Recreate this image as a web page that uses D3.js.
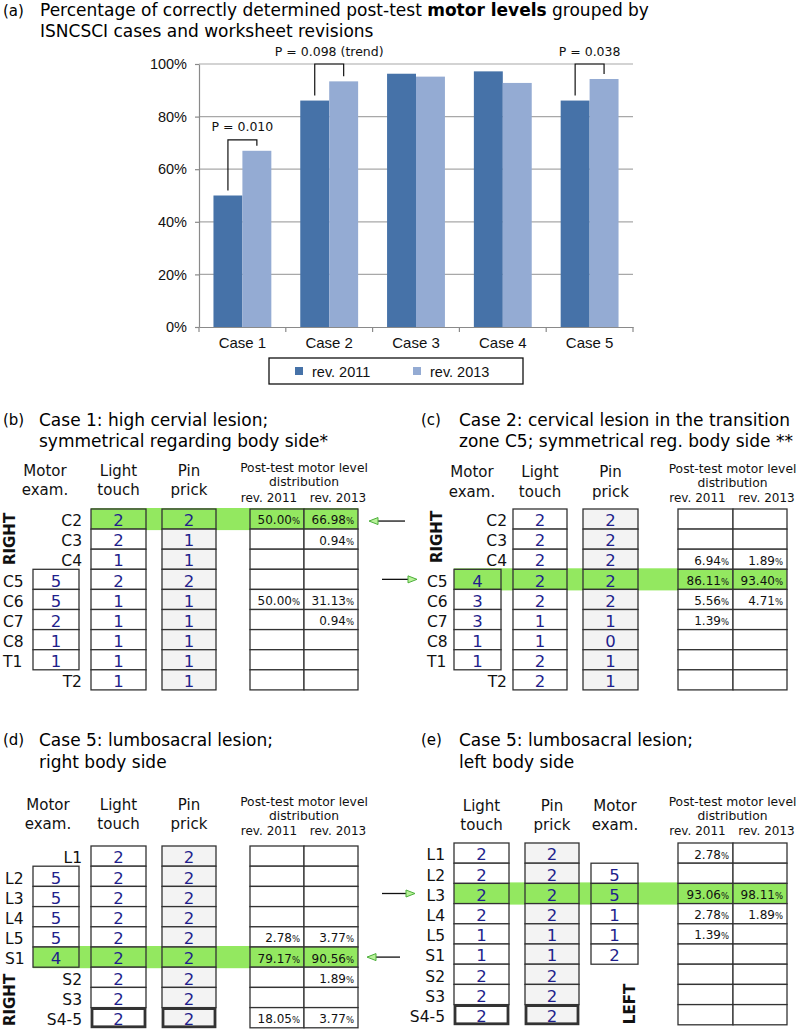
<!DOCTYPE html>
<html><head><meta charset="utf-8">
<script src="https://cdn.jsdelivr.net/npm/d3@7"></script>
<style>body{margin:0;background:#fff}svg{display:block}</style>
</head><body><svg id="fig" width="800" height="1032"></svg>
<script>
// ---------- data: panel (a) ----------
const cases = ["Case 1","Case 2","Case 3","Case 4","Case 5"];
const seriesNames = ["rev. 2011","rev. 2013"];
const rev2011 = [50.0, 86.1, 96.3, 97.2, 86.1];
const rev2013 = [67.0, 93.4, 95.2, 92.8, 94.3];
const yTickValues = [0,20,40,60,80,100];
const pCases = ["Case 1","Case 2","Case 5"];
const pLabels = ["P = 0.010","P = 0.098 (trend)","P = 0.038"];

// ---------- data: panel (b) ----------
const levelsB = ["C2","C3","C4","C5","C6","C7","C8","T1","T2"];
const motorB  = [null,null,null,5,5,2,1,1,null];
const lightB  = [2,2,1,2,1,1,1,1,1];
const pinB    = [2,1,1,2,1,1,1,1,1];
const dist11B = [50.00,null,null,null,50.00,null,null,null,null];
const dist13B = [66.98,0.94,null,null,31.13,0.94,null,null,null];
const highlightB = "C2";

// ---------- data: panel (c) ----------
const levelsC = ["C2","C3","C4","C5","C6","C7","C8","T1","T2"];
const motorC  = [null,null,null,4,3,3,1,1,null];
const lightC  = [2,2,2,2,2,1,1,2,2];
const pinC    = [2,2,2,2,2,1,0,1,1];
const dist11C = [null,null,6.94,86.11,5.56,1.39,null,null,null];
const dist13C = [null,null,1.89,93.40,4.71,null,null,null,null];
const highlightC = "C5";

// ---------- data: panel (d) ----------
const levelsD = ["L1","L2","L3","L4","L5","S1","S2","S3","S4-5"];
const motorD  = [null,5,5,5,5,4,null,null,null];
const lightD  = [2,2,2,2,2,2,2,2,2];
const pinD    = [2,2,2,2,2,2,2,2,2];
const dist11D = [null,null,null,null,2.78,79.17,null,null,18.05];
const dist13D = [null,null,null,null,3.77,90.56,1.89,null,3.77];
const highlightD = "S1";

// ---------- data: panel (e) ----------
const levelsE = ["L1","L2","L3","L4","L5","S1","S2","S3","S4-5"];
const motorE  = [null,5,5,1,1,2,null,null,null];
const lightE  = [2,2,2,2,1,1,2,2,2];
const pinE    = [2,2,2,2,1,1,2,2,2];
const dist11E = [2.78,null,93.06,2.78,1.39,null,null,null,null];
const dist13E = [null,null,98.11,1.89,null,null,null,null,null];
const highlightE = "L3";
const boldLevels = ["S4-5"];

const SANS = "DejaVu Sans, sans-serif";
const ARIAL = "Liberation Sans, Arial, sans-serif";
const GREEN = "#93e860";
const NAVY = "#1f1f8c";

const svg = d3.select("#fig");

// ================= Panel (a) =================
const gA = svg.append("g");
gA.append("text").attr("x",3).attr("y",16).attr("font-family",SANS).attr("font-size",15).text("(a)");
const tA = gA.append("text").attr("x",40).attr("y",16).attr("font-family",SANS).attr("font-size",17);
tA.append("tspan").text("Percentage of correctly determined post-test ");
tA.append("tspan").attr("font-weight","bold").text("motor levels");
tA.append("tspan").text(" grouped by");
gA.append("text").attr("x",40).attr("y",36.5).attr("font-family",SANS).attr("font-size",17)
  .text("ISNCSCI cases and worksheet revisions");

const x = d3.scaleBand().domain(cases).range([199,633]).padding(0);
const xs = d3.scaleBand().domain(seriesNames).range([0,x.bandwidth()]).paddingInner(0).paddingOuter(0.5);
const y = d3.scaleLinear().domain([0,100]).range([327,64]);
const colors = d3.scaleOrdinal().domain(seriesNames).range(["#4672a8","#94abd3"]);

// gridlines
gA.append("g").selectAll("line").data(yTickValues.filter(d=>d>0)).join("line")
  .attr("x1",199).attr("x2",633).attr("y1",d=>y(d)).attr("y2",d=>y(d))
  .attr("stroke","#a8a8a8").attr("stroke-width",1.2);

// y axis
const yAxis = gA.append("g").attr("transform","translate(199,0)")
  .call(d3.axisLeft(y).tickValues(yTickValues).tickSize(4).tickSizeOuter(0).tickPadding(8).tickFormat(d=>d+"%"));
yAxis.select(".domain").attr("stroke","#8a8a8a").attr("stroke-width",1.2);
yAxis.selectAll(".tick line").attr("stroke","#8a8a8a").attr("stroke-width",1.2);
yAxis.selectAll("text").attr("font-family",ARIAL).attr("font-size",14.5).attr("fill","#111");

// bars
const seriesData = [rev2011, rev2013];
cases.forEach((c,i)=>{
  seriesNames.forEach((s,j)=>{
    gA.append("rect").attr("x",x(c)+xs(s)).attr("width",xs.bandwidth())
      .attr("y",y(seriesData[j][i])).attr("height",y(0)-y(seriesData[j][i]))
      .attr("fill",colors(s));
  });
});

// x axis
const xAxis = gA.append("g").attr("transform","translate(0,327)")
  .call(d3.axisBottom(x).tickSize(0).tickSizeOuter(0).tickPadding(10));
xAxis.select(".domain").attr("stroke","#8a8a8a").attr("stroke-width",1.2);
xAxis.selectAll("text").attr("font-family",ARIAL).attr("font-size",15).attr("fill","#111");
const bounds = cases.map(c=>x(c)).concat([x.range()[1]]);
gA.append("g").selectAll("line").data(bounds).join("line")
  .attr("x1",d=>d).attr("x2",d=>d).attr("y1",327).attr("y2",332)
  .attr("stroke","#8a8a8a").attr("stroke-width",1.2);

// p-value brackets
pCases.forEach((c,k)=>{
  const i = cases.indexOf(c);
  const xl = x(c)+xs(seriesNames[0])+xs.bandwidth()/2;
  const xr = x(c)+xs(seriesNames[1])+xs.bandwidth()/2;
  const mx = Math.max(rev2011[i],rev2013[i]);
  const lvl = mx < 90 ? y(mx)-11 : y(100);
  gA.append("path")
    .attr("d",`M${xl},${y(rev2011[i])-5}V${lvl}H${xr}V${y(rev2013[i])-5}`)
    .attr("fill","none").attr("stroke","#111").attr("stroke-width",1.2);
  gA.append("text").attr("x",(xl+xr)/2).attr("y",lvl-8.5).attr("text-anchor","middle")
    .attr("font-family",SANS).attr("font-size",12.5).attr("fill","#111").text(pLabels[k]);
});

// legend
const lg = gA.append("g");
lg.append("rect").attr("x",269).attr("y",358).attr("width",254).attr("height",26)
  .attr("fill","#fff").attr("stroke","#111").attr("stroke-width",1.3);
const legX = [295,413];
seriesNames.forEach((s,j)=>{
  lg.append("rect").attr("x",legX[j]).attr("y",367).attr("width",8).attr("height",8).attr("fill",colors(s));
  lg.append("text").attr("x",legX[j]+17).attr("y",377).attr("font-family",ARIAL).attr("font-size",14.5)
    .attr("fill","#111").text(s);
});

// ================= Table panels =================
function fmt(v){ return v.toFixed(2); }

function drawPanel(p){
  const L = p.layout;
  const g = svg.append("g");
  // titles
  g.append("text").attr("x",L.labelX).attr("y",L.titleY[0]-1).attr("font-family",SANS).attr("font-size",15).text(L.tag);
  L.titleLines.forEach((t,k)=>{
    g.append("text").attr("x",L.titleX).attr("y",L.titleY[k]).attr("font-family",SANS).attr("font-size",17).text(t);
  });
  // headers
  const colCenter = c => (L.cols[c][0]+L.cols[c][1])/2;
  const hdr = [["motor",["Motor","exam."],L.motorHdrX],["light",["Light","touch"],colCenter("light")],["pin",["Pin","prick"],colCenter("pin")]];
  hdr.forEach(([c,lines,cx])=>{
    lines.forEach((t,k)=>{
      g.append("text").attr("x",cx).attr("y",L.hdrY[k]).attr("text-anchor","middle")
        .attr("font-family",SANS).attr("font-size",15).attr("fill","#111").text(t);
    });
  });
  const dc = (L.dist[0]+L.dist[2])/2;
  ["Post-test motor level","distribution"].forEach((t,k)=>{
    g.append("text").attr("x",dc).attr("y",L.pY[k]).attr("text-anchor","middle")
      .attr("font-family",SANS).attr("font-size",12.3).attr("fill","#111").text(t);
  });
  g.append("text").attr("x",dc-35).attr("y",L.pY[2]).attr("text-anchor","middle")
    .attr("font-family",SANS).attr("font-size",12).attr("fill","#111").text("rev. 2011");
  g.append("text").attr("x",dc+34).attr("y",L.pY[2]).attr("text-anchor","middle")
    .attr("font-family",SANS).attr("font-size",12).attr("fill","#111").text("rev. 2013");

  const rows = d3.scaleBand().domain(p.levels).range([L.rowTop, L.rowTop + L.rowH*p.levels.length]).padding(0);
  const rh = rows.bandwidth();
  const hi = p.highlight;
  const hiIdx = p.levels.indexOf(hi);

  // green band
  const present = ["motor","light","pin"].filter(c=>p[c][hiIdx]!=null).map(c=>L.cols[c][0]);
  const bandL = Math.min(...present);
  g.append("rect").attr("x",bandL).attr("y",rows(hi)-1).attr("width",L.dist[2]-bandL).attr("height",rh+2)
    .attr("fill",GREEN);

  const fills = {motor:"#ffffff", light:"#ffffff", pin:"#f3f3f3"};
  ["motor","light","pin"].forEach(c=>{
    p.levels.forEach((lv,i)=>{
      const v = p[c][i];
      if(v==null) return;
      const bold = c!=="motor" && boldLevels.includes(lv);
      const [x0,x1] = L.cols[c];
      const inset = bold ? 1 : 0;
      g.append("rect").attr("x",x0+inset).attr("y",rows(lv)+inset).attr("width",x1-x0-2*inset).attr("height",rh-2*inset)
        .attr("fill", lv===hi ? GREEN : fills[c])
        .attr("stroke","#333").attr("stroke-width", bold ? 2.8 : 1.3);
      g.append("text").attr("x",(x0+x1)/2).attr("y",rows(lv)+rh*0.86).attr("text-anchor","middle")
        .attr("font-family",SANS).attr("font-size",16.5).attr("fill",NAVY).text(v);
    });
  });

  // distribution cells
  [p.d11, p.d13].forEach((arr,j)=>{
    const x0 = L.dist[j], x1 = L.dist[j+1];
    p.levels.forEach((lv,i)=>{
      g.append("rect").attr("x",x0).attr("y",rows(lv)).attr("width",x1-x0).attr("height",rh)
        .attr("fill", lv===hi ? GREEN : "#fff").attr("stroke","#333").attr("stroke-width",1.3);
      const v = arr[i];
      if(v==null) return;
      const t = g.append("text").attr("x",x1-4).attr("y",rows(lv)+rh*0.77).attr("text-anchor","end")
        .attr("font-family",SANS).attr("font-size",12).attr("fill","#111");
      t.append("tspan").text(fmt(v));
      t.append("tspan").attr("font-size",8.5).text("%");
    });
  });

  // row labels
  p.levels.forEach((lv,i)=>{
    const left = !L.allRight && p.motor[i]!=null;
    g.append("text").attr("x", left ? L.labelLeft : L.labelRight).attr("y",rows(lv)+rh*0.86)
      .attr("text-anchor", left ? "start" : "end")
      .attr("font-family",SANS).attr("font-size",15.5).attr("fill","#111").text(lv);
  });

  // side label
  g.append("text").attr("transform",`translate(${L.side.x},${L.side.y}) rotate(-90)`)
    .attr("text-anchor","middle").attr("dominant-baseline","central")
    .attr("font-family",SANS).attr("font-weight","bold").attr("font-size",15).attr("fill","#111").text(L.side.text);

  return rows(hi)+rh/2;
}

function arrow(x1,x2,yy){
  const dir = Math.sign(x2-x1);
  const g = svg.append("g");
  g.append("line").attr("x1",x1).attr("x2",x2-dir*8).attr("y1",yy).attr("y2",yy).attr("stroke","#111").attr("stroke-width",1.3);
  g.append("path").attr("d",`M${x2},${yy}L${x2-dir*9},${yy-3.5}L${x2-dir*9},${yy+3.5}Z`)
    .attr("fill","#b9f29a").attr("stroke","#4caf3a").attr("stroke-width",1);
}

const yB = drawPanel({levels:levelsB, motor:motorB, light:lightB, pin:pinB, d11:dist11B, d13:dist13B, highlight:highlightB,
  layout:{tag:"(b)", labelX:3, titleX:39, titleY:[426,447], titleLines:["Case 1: high cervial lesion;","symmetrical regarding body side*"],
    rowTop:509, rowH:20.1, cols:{motor:[33,79], light:[91,146], pin:[162,216]}, dist:[250,304,358],
    labelLeft:3, labelRight:82, allRight:false, side:{text:"RIGHT", x:10, y:539},
    hdrY:[476,495], motorHdrX:45, pY:[472,486,502]}});

const yC = drawPanel({levels:levelsC, motor:motorC, light:lightC, pin:pinC, d11:dist11C, d13:dist13C, highlight:highlightC,
  layout:{tag:"(c)", labelX:421, titleX:459, titleY:[426,447], titleLines:["Case 2: cervical lesion in the transition","zone C5; symmetrical reg. body side **"],
    rowTop:509, rowH:20.1, cols:{motor:[454,501], light:[513,567], pin:[583,638]}, dist:[678,733,787],
    labelLeft:427, labelRight:507, allRight:false, side:{text:"RIGHT", x:437, y:537},
    hdrY:[477,497], motorHdrX:472, pY:[473,487,502]}});

const yD = drawPanel({levels:levelsD, motor:motorD, light:lightD, pin:pinD, d11:dist11D, d13:dist13D, highlight:highlightD,
  layout:{tag:"(d)", labelX:3, titleX:39, titleY:[746,768], titleLines:["Case 5: lumbosacral lesion;","right body side"],
    rowTop:846, rowH:20.2, cols:{motor:[33,79], light:[91,146], pin:[162,216]}, dist:[250,304,358],
    labelLeft:5, labelRight:82, allRight:false, side:{text:"RIGHT", x:10, y:1000},
    hdrY:[810,829], motorHdrX:48, pY:[806,820,835]}});

const yE = drawPanel({levels:levelsE, motor:motorE, light:lightE, pin:pinE, d11:dist11E, d13:dist13E, highlight:highlightE,
  layout:{tag:"(e)", labelX:421, titleX:459, titleY:[746,768], titleLines:["Case 5: lumbosacral lesion;","left body side"],
    rowTop:843, rowH:20.2, cols:{motor:[591,638], light:[454,509], pin:[525,579]}, dist:[678,733,787],
    labelLeft:445, labelRight:445, allRight:true, side:{text:"LEFT", x:630, y:1004},
    hdrY:[811,830], motorHdrX:615, pY:[806,820,835]}});

arrow(405,369,yB+2);
arrow(382,417,yC);
arrow(400,367,yD);
arrow(382,415,yE);
</script></body></html>
